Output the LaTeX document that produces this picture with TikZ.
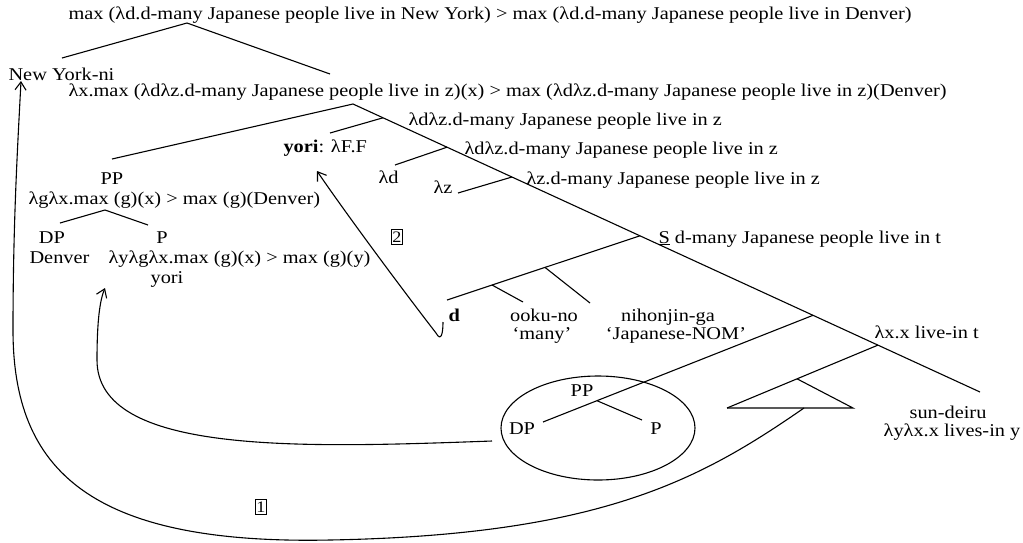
\documentclass[tikz,border=0pt]{standalone}
\usepackage{fontspec}
\setmainfont{Liberation Serif}[FakeStretch=1.13]
\usetikzlibrary{arrows.meta}
\begin{document}
\begin{tikzpicture}[x=1pt,y=-1pt,line width=1.1pt,
  every node/.style={inner sep=0pt,font=\fontsize{18}{20}\selectfont},
  lbl/.style={anchor=base west},
  clbl/.style={anchor=base},
  numbox/.style={draw,line width=0.9pt,inner xsep=1.2pt,inner ysep=2pt,font=\fontsize{16}{18}\selectfont},
  arr/.style={-{Straight Barb[length=8pt,width=11pt,line width=1.1pt]}}]
\useasboundingbox (0,0) rectangle (1023,542);
% texts
\node[lbl] (top) at (68,19) {max (λd.d-many Japanese people live in New York) > max (λd.d-many Japanese people live in Denver)};
\node[lbl] (ny) at (8,80) {New York-ni};
\node[lbl] (l2) at (68,96) {λx.max (λdλz.d-many Japanese people live in z)(x) > max (λdλz.d-many Japanese people live in z)(Denver)};
\node[lbl] (la) at (408,125) {λdλz.d-many Japanese people live in z};
\node[lbl] (yo) at (283,152) {\textbf{yori}: λF.F};
\node[lbl] (lb) at (464,154) {λdλz.d-many Japanese people live in z};
\node[lbl] (ld) at (378,183) {λd};
\node[lbl] (lzl) at (433,193) {λz};
\node[lbl] (lc) at (526,184) {λz.d-many Japanese people live in z};
\node[lbl] (ls) at (658,243) {\underline{S} d-many Japanese people live in t};
\node[clbl] (pp) at (112,184) {PP};
\node[lbl] (ppsem) at (28,204) {λgλx.max (g)(x) > max (g)(Denver)};
\node[clbl] (dp) at (52,243) {DP};
\node[clbl] (p) at (162,243) {P};
\node[lbl] (den) at (29,263) {Denver};
\node[lbl] (psem) at (108,263) {λyλgλx.max (g)(x) > max (g)(y)};
\node[clbl] (yori2) at (167,283) {yori};
\node[numbox] (n2) at (397,237) {2};
\node[lbl] (d) at (448,321) {\textbf{d}};
\node[clbl] (ooku) at (544,321) {ooku-no};
\node[clbl] (many) at (542,339) {‘many’};
\node[clbl] (nihon) at (668,321) {nihonjin-ga};
\node[clbl] (jnom) at (676,339) {‘Japanese-NOM’};
\node[lbl] (lv) at (874,338) {λx.x live-in t};
\node[clbl] (cpp) at (582,396) {PP};
\node[clbl] (cdp) at (522,434) {DP};
\node[clbl] (cp) at (656,434) {P};
\node[clbl] (sun) at (948,418) {sun-deiru};
\node[clbl] (sunsem) at (952,436) {λyλx.x lives-in y};
\node[numbox] (n1) at (261,507) {1};
% tree coordinates
\coordinate (j0) at (187,23);
\coordinate (nyT) at (62,58);
\coordinate (l2T) at (330,74);
\coordinate (j1) at (353,104);
\coordinate (ppT) at (112,159);
\coordinate (endL) at (980,392);
\coordinate (ja) at (383,117.8);
\coordinate (yoT) at (330,133);
\coordinate (jb) at (447,147.2);
\coordinate (ldT) at (395,165);
\coordinate (jc) at (512,177);
\coordinate (lzT) at (458,193);
\coordinate (jS) at (640,235.8);
\coordinate (dT) at (447,300);
\coordinate (jd1) at (492,285);
\coordinate (ookuT) at (523,302);
\coordinate (jd2) at (545,267.4);
\coordinate (nihonT) at (590,303);
\coordinate (jPP) at (813,315.3);
\coordinate (cdpT) at (543,422);
\coordinate (jcpp) at (597,400.7);
\coordinate (cpT) at (642,420);
\coordinate (jV) at (878,345.1);
\coordinate (triL) at (727,408);
\coordinate (triA) at (797,378.8);
\coordinate (triR) at (853,408);
\coordinate (jppL) at (105,210);
\coordinate (dpT) at (60,223);
\coordinate (pT) at (148,225);
% tree lines
\draw (nyT) -- (j0) -- (l2T);
\draw (ppT) -- (j1) -- (endL);
\draw (yoT) -- (ja);
\draw (ldT) -- (jb);
\draw (lzT) -- (jc);
\draw (dT) -- (jS);
\draw (jd1) -- (ookuT);
\draw (jd2) -- (nihonT);
\draw (cdpT) -- (jPP);
\draw (jcpp) -- (cpT);
\draw (triL) -- (jV);
\draw (triA) -- (triR) -- (triL);
\draw (dpT) -- (jppL) -- (pT);
\draw (598,428) ellipse [x radius=97,y radius=52];
% movement arrows
\coordinate (a2s) at (443,322);
\coordinate (a2e) at (317,171);
\draw[arr] (a2s) .. controls (443,334) and (441,342) .. (436,333) .. controls (395,280) and (340,205) .. (a2e);
\coordinate (a3s) at (492,441);
\coordinate (a3e) at (105,288);
\draw[arr] (a3s) .. controls (300,448) and (97,455) .. (97,360) .. controls (97,320) and (100,300) .. (a3e);
\coordinate (a1s) at (804,408);
\coordinate (a1e) at (21,81);
\draw[arr] (a1s) .. controls (700,480) and (600,535) .. (330,540) .. controls (90,545) and (13,470) .. (13,330) .. controls (13,220) and (18,140) .. (a1e);
\end{tikzpicture}
\end{document}
